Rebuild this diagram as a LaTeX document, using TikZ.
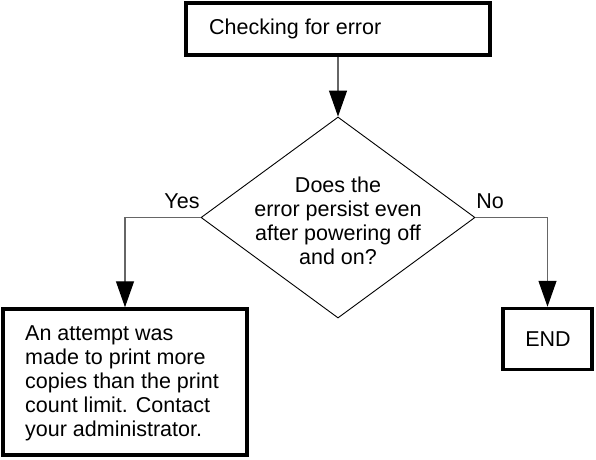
\documentclass[tikz,border=0pt]{standalone}
\usepackage{fontspec}
\setmainfont{Liberation Sans}
\usetikzlibrary{arrows.meta,shapes.geometric}
\begin{document}
\begin{tikzpicture}[x=1pt,y=-1pt,
  every node/.style={font=\fontsize{21.5}{24}\selectfont},
  boxstyle/.style={draw=black,line width=3.5pt,inner sep=0pt,anchor=center},
  conn/.style={draw=black!60,line width=1.3pt,-{Triangle[length=26pt,width=18pt,color=black]}}
]
\useasboundingbox (0,0) rectangle (596,459);
% top box
\node[boxstyle,minimum width=304pt,minimum height=52pt] (top) at (338,29) {};
\node[anchor=west,inner sep=0pt] (toptext) at (209,29) {Checking for error};
% decision
\node[draw=black,line width=0.9pt,shape=diamond,minimum width=274pt,minimum height=201pt,inner sep=0pt] (dec) at (338,217.5) {};
\node[align=center,inner sep=0pt] (dectext) at (338,221) {Does the\\error persist even\\after powering off\\and on?};
% yes box
\node[boxstyle,minimum width=244pt,minimum height=146pt] (yesbox) at (125,382) {};
\node[anchor=west,align=left,inner sep=0pt] (yestext) at (25,383) {An attempt was\\made to print more\\copies than the print\\count limit. Contact\\your administrator.};
% end box
\node[boxstyle,minimum width=89pt,minimum height=61pt] (endbox) at (547.5,339) {};
\node[inner sep=0pt] (endtext) at (548,339) {END};
% labels
\node[anchor=base,inner sep=0pt] (yeslbl) at (182,208) {Yes};
\node[anchor=base,inner sep=0pt] (nolbl) at (490,208) {No};
% connectors
\draw[conn] (top.south) -- (dec.north);
\draw[conn] (dec.west) -| (yesbox.north);
\draw[conn] (dec.east) -| (endbox.north);
\end{tikzpicture}
\end{document}
